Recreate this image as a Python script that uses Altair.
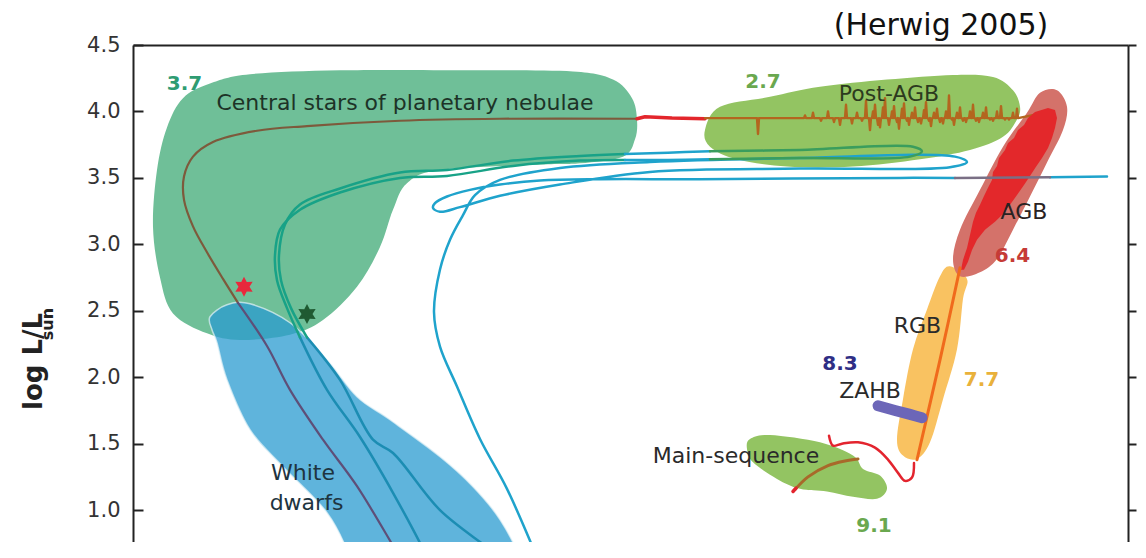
import altair as alt
import pandas as pd

# ---------------- data (x: horizontal position index, y: log L/Lsun) ----------------
W, H = 995, 497
XDOM = [0, 9.95]
YDOM = [0.76, 4.5]
TICKS = [1.0, 1.5, 2.0, 2.5, 3.0, 3.5, 4.0, 4.5]
FONT = "DejaVu Sans"

# regions (blobs)
cspn_x = [0.50, 0.77, 1.17, 2.07, 3.40, 4.40, 4.80, 4.99, 5.04, 5.02, 4.90, 4.47, 4.07, 3.07, 2.74, 2.60, 2.47, 2.24, 1.90, 1.57, 1.07, 0.74, 0.40, 0.27, 0.20, 0.24, 0.34]
cspn_y = [4.10, 4.21, 4.28, 4.31, 4.31, 4.30, 4.24, 4.10, 3.94, 3.79, 3.66, 3.61, 3.60, 3.56, 3.46, 3.26, 2.98, 2.68, 2.43, 2.32, 2.28, 2.33, 2.48, 2.75, 3.13, 3.56, 3.88]

pagb_x = [5.72, 5.87, 6.37, 6.87, 7.54, 8.20, 8.60, 8.80, 8.87, 8.84, 8.70, 8.37, 7.87, 7.20, 6.54, 6.04, 5.77]
pagb_y = [3.86, 4.035, 4.11, 4.185, 4.24, 4.275, 4.26, 4.16, 4.035, 3.94, 3.81, 3.71, 3.64, 3.585, 3.585, 3.64, 3.735]

agb_x = [9.24, 9.34, 9.30, 9.14, 8.97, 8.80, 8.64, 8.47, 8.27, 8.20, 8.27, 8.47, 8.70, 8.94, 9.07]
agb_y = [4.16, 4.035, 3.86, 3.615, 3.36, 3.11, 2.89, 2.79, 2.76, 2.89, 3.11, 3.41, 3.735, 3.99, 4.14]

rgb_x = [8.17, 8.34, 8.30, 8.24, 8.10, 7.97, 7.84, 7.70, 7.64, 7.70, 7.80, 7.94, 8.07]
rgb_y = [2.835, 2.74, 2.59, 2.21, 1.835, 1.51, 1.385, 1.41, 1.53, 1.835, 2.21, 2.51, 2.76]

ms_x = [6.17, 6.37, 6.87, 7.20, 7.30, 7.47, 7.54, 7.44, 7.20, 6.94, 6.67, 6.44, 6.20, 6.14]
ms_y = [1.535, 1.565, 1.51, 1.41, 1.31, 1.26, 1.16, 1.085, 1.10, 1.14, 1.16, 1.235, 1.36, 1.46]

wd_x = [0.77, 0.94, 1.17, 1.57, 1.94, 2.24, 2.57, 3.07, 3.40, 3.67, 3.87, 3.92, 2.27, 2.17, 1.94, 1.50, 1.17, 0.94, 0.84, 0.79]
wd_y = [2.455, 2.545, 2.553, 2.41, 2.131, 1.853, 1.68, 1.402, 1.176, 0.928, 0.627, 0.326, 0.326, 0.642, 0.981, 1.327, 1.605, 1.981, 2.26, 2.357]

# AGB thermal-pulse band
band_x = [9.15, 9.02, 8.95, 8.91, 8.85, 8.81, 8.75, 8.72, 8.66, 8.64, 8.60, 8.59, 8.55, 8.51, 8.47, 8.43, 8.40, 8.37, 8.34, 8.30, 8.28,
          8.31, 8.35, 8.39, 8.44, 8.52, 8.62, 8.70, 8.77, 8.84, 8.91, 8.97, 9.03, 9.09, 9.15, 9.19, 9.22, 9.24, 9.22]
band_y = [4.026, 3.996, 3.951, 3.898, 3.861, 3.80, 3.763, 3.71, 3.65, 3.59, 3.545, 3.485, 3.425, 3.364, 3.297, 3.237, 3.169, 3.071, 2.973, 2.883, 2.808,
          2.808, 2.868, 2.958, 3.034, 3.109, 3.169, 3.229, 3.297, 3.372, 3.447, 3.515, 3.583, 3.65, 3.725, 3.80, 3.876, 3.951, 4.011]

# main (red) post-AGB track, split by the region it crosses
noisy_base = 3.95
noisy_start_x, noisy_end_x, noisy_end_y = 5.72, 9.12, 3.99
spike_x = [6.25, 6.72, 6.80, 6.88, 6.95, 7.01, 7.07, 7.13, 7.19, 7.24, 7.29, 7.33, 7.37, 7.40, 7.42, 7.45, 7.47, 7.50, 7.52,
           7.56, 7.59, 7.61, 7.64, 7.66, 7.69, 7.71, 7.74, 7.76, 7.79, 7.82, 7.85, 7.88, 7.91, 7.93, 7.96, 7.98, 8.01,
           8.04, 8.07, 8.10, 8.13, 8.16, 8.19, 8.21, 8.24, 8.27, 8.30, 8.33, 8.37, 8.40, 8.43, 8.46, 8.50, 8.53, 8.57,
           8.60, 8.64, 8.68, 8.72, 8.76, 8.80, 8.84]
spike_y = [3.83, 3.97, 3.99, 3.93, 4.00, 3.92, 3.90, 4.05, 3.91, 3.99, 3.93, 4.08, 3.86, 4.00, 4.05, 3.90, 3.88, 4.03, 4.10,
           3.90, 4.00, 4.04, 3.92, 3.87, 4.02, 4.06, 3.93, 3.90, 3.99, 4.03, 3.92, 3.91, 4.01, 4.07, 3.93, 3.89, 3.99,
           4.02, 3.92, 3.91, 4.00, 4.12, 3.94, 3.90, 3.99, 4.03, 3.93, 3.92, 4.00, 4.05, 3.93, 3.92, 3.99, 4.03, 3.94,
           3.93, 4.00, 4.04, 3.94, 3.94, 3.99, 4.02]
redgap_x = [5.72, 5.39, 5.12, 5.04]
redgap_y = [3.945, 3.95, 3.96, 3.945]
brown_x = [5.04, 3.67, 2.67, 1.74, 1.24, 0.80, 0.60, 0.51, 0.51, 0.60, 0.74, 0.90, 1.05]
brown_y = [3.945, 3.945, 3.93, 3.89, 3.855, 3.77, 3.66, 3.51, 3.335, 3.135, 2.94, 2.74, 2.56]
brownwd_x = [1.05, 1.34, 1.57, 1.90, 2.24, 2.67, 2.87]
brownwd_y = [2.56, 2.235, 1.905, 1.53, 1.18, 0.645, 0.405]

# second (double) track
twdA_x = [3.97, 3.67, 3.07, 2.60, 2.40, 2.07, 1.74]
twdA_y = [0.40, 0.64, 1.00, 1.43, 1.53, 1.98, 2.30]
tcsA_x = [1.74, 1.58, 1.48, 1.46, 1.52, 1.67, 2.07, 2.67, 3.14, 3.80, 4.47, 4.92]
tcsA_y = [2.30, 2.52, 2.73, 2.92, 3.15, 3.30, 3.42, 3.54, 3.56, 3.63, 3.665, 3.68]
tgapA_x = [4.92, 5.35, 5.77]
tgapA_y = [3.68, 3.69, 3.70]
tpagb_x = [5.77, 6.67, 7.80, 7.89, 7.77, 6.67, 5.77]
tpagb_y = [3.70, 3.71, 3.735, 3.70, 3.66, 3.65, 3.64]
tgapB_x = [5.77, 5.35, 4.92]
tgapB_y = [3.64, 3.635, 3.635]
tcsB_x = [4.92, 4.47, 3.80, 3.14, 2.67, 2.07, 1.67, 1.47, 1.42, 1.44, 1.54, 1.67]
tcsB_y = [3.635, 3.63, 3.59, 3.515, 3.50, 3.39, 3.26, 3.11, 2.92, 2.73, 2.52, 2.30]
twdB_x = [1.67, 1.94, 2.27, 2.60, 2.94, 3.07]
twdB_y = [2.30, 1.905, 1.55, 1.13, 0.645, 0.405]

# blue track
blueA_x = [9.74, 9.17]
blueA_y = [3.51, 3.505]
blueB_x = [9.17, 8.22]
blueB_y = [3.505, 3.50]
blueC_x = [8.22, 7.67, 5.67, 4.67, 4.07, 3.67, 3.37, 3.14, 3.02, 3.00, 3.07, 3.27, 3.67, 4.27, 5.17, 6.67, 8.17, 8.34, 8.22, 6.67, 5.17, 4.27, 3.67, 3.42, 3.30, 3.17, 3.07, 3.01, 3.07, 3.24, 3.47, 3.74, 4.04, 4.17]
blueC_y = [3.50, 3.50, 3.49, 3.49, 3.48, 3.45, 3.41, 3.36, 3.31, 3.275, 3.245, 3.28, 3.365, 3.45, 3.545, 3.57, 3.58, 3.62, 3.66, 3.65, 3.62, 3.575, 3.485, 3.37, 3.22, 3.035, 2.81, 2.49, 2.23, 1.93, 1.535, 1.16, 0.645, 0.405]

# low-mass phases
rgbline_x = [7.84, 8.07, 8.27]
rgbline_y = [1.379, 2.131, 2.823]
msred_x = [6.96, 7.00, 7.09, 7.25, 7.42, 7.55, 7.65, 7.72, 7.79, 7.81]
msred_y = [1.56, 1.485, 1.50, 1.51, 1.47, 1.38, 1.28, 1.22, 1.245, 1.355]
msbrown_x = [6.62, 6.75, 6.95, 7.12, 7.25]
msbrown_y = [1.155, 1.25, 1.335, 1.37, 1.385]
mstip_x = [6.60, 6.63]
mstip_y = [1.14, 1.165]
zahb_x = [7.45, 7.62, 7.77, 7.89]
zahb_y = [1.785, 1.75, 1.72, 1.695]

# stars
star_x = [1.11, 1.74]
star_y = [2.68, 2.475]
star_c = ["#e8283c", "#1f5a32"]

# labels
lab_text = ["Central stars of planetary nebulae", "Post-AGB", "AGB", "RGB", "ZAHB", "Main-sequence", "White", "dwarfs"]
lab_x = [2.72, 7.56, 8.91, 7.845, 7.37, 6.03, 1.70, 1.735]
lab_y = [4.064, 4.135, 3.24, 2.382, 1.893, 1.407, 1.276, 1.05]
lab_c = ["#1d3327", "#2c3a1e", "#2a2222", "#2a2a2a", "#2a2a2a", "#2a2a2a", "#1e3440", "#1e3440"]
num_text = ["3.7", "2.7", "6.4", "7.7", "8.3", "9.1"]
num_x = [0.515, 6.30, 8.795, 8.485, 7.07, 7.41]
num_y = [4.207, 4.225, 2.909, 1.979, 2.10, 0.877]
num_c = ["#2e9c72", "#6aa84f", "#c63b36", "#e9b13b", "#2f2e85", "#6aa84f"]

STAR = ("M0,-1L0.275,-0.476L0.866,-0.5L0.55,0L0.866,0.5L0.275,0.476L0,1"
        "L-0.275,0.476L-0.866,0.5L-0.55,0L-0.866,-0.5L-0.275,-0.476Z")

# ---------------- encodings ----------------
XS = alt.Scale(domain=XDOM, nice=False, zero=False)
YS = alt.Scale(domain=YDOM, nice=False, zero=False)
X = alt.X("x:Q", scale=XS,
          axis=alt.Axis(orient="top", domain=True, domainColor="#222", domainWidth=2,
                        ticks=False, labels=False, grid=False, title=None))
Y = alt.Y("y:Q", scale=YS,
          axis=alt.Axis(orient="left", values=TICKS, format=".1f", domain=True, domainColor="#222",
                        domainWidth=2, ticks=False, labelPadding=13, labelFont=FONT, labelFontSize=21,
                        labelColor="#333", grid=False, title=None))


def frame(xs, ys):
    return pd.DataFrame({"x": xs, "y": ys, "i": list(range(len(xs)))})


def blob(xs, ys, fill, opacity=1.0, interp="cardinal-closed", stroke=None, sw=0.0):
    return alt.Chart(frame(xs, ys)).mark_line(
        fill=fill, fillOpacity=opacity, interpolate=interp, clip=True,
        stroke=stroke if stroke else fill, strokeWidth=sw, strokeOpacity=0.7
    ).encode(x=X, y=Y, order="i:Q")


def path(xs, ys, color, width=2.5, interp="catmull-rom"):
    return alt.Chart(frame(xs, ys)).mark_line(
        color=color, strokeWidth=width, interpolate=interp, clip=True,
        strokeCap="round", strokeJoin="round"
    ).encode(x=X, y=Y, order="i:Q")


# spiky post-AGB line: baseline with each read spike tip
nx, ny = [noisy_start_x], [noisy_base]
for sx, sy in zip(spike_x, spike_y):
    nx += [sx - 0.01, sx, sx + 0.01]
    ny += [noisy_base, sy, noisy_base]
nx.append(noisy_end_x)
ny.append(noisy_end_y)

layers = [
    blob(cspn_x, cspn_y, "#6fbf98"),
    blob(pagb_x, pagb_y, "#93c462"),
    blob(ms_x, ms_y, "#93c462"),
    blob(rgb_x, rgb_y, "#f9c261"),
    blob(agb_x, agb_y, "#d4726a"),
    blob(wd_x, wd_y, "#2a9bd0", opacity=0.75, stroke="#e6f4f8", sw=1.5),
    # blue track
    path(blueC_x, blueC_y, "#1fa3cc", 2.5),
    path(blueA_x, blueA_y, "#1fa3cc", 2.5, "linear"),
    # double track
    path(twdA_x, twdA_y, "#1c8db3", 2.5),
    path(twdB_x, twdB_y, "#1c8db3", 2.5),
    path(tcsA_x, tcsA_y, "#18a287", 2.5),
    path(tcsB_x, tcsB_y, "#18a287", 2.5),
    path(tgapA_x, tgapA_y, "#1fa3cc", 2.5),
    path(tgapB_x, tgapB_y, "#1fa3cc", 2.5),
    path(tpagb_x, tpagb_y, "#3a9d5d", 2.5),
    # main track
    path(brown_x, brown_y, "#7d5a3c", 2.2),
    path(brownwd_x, brownwd_y, "#5e4f78", 2.2),
    path(redgap_x, redgap_y, "#e3262c", 3.5, "linear"),
    path(nx, ny, "#b3661f", 2.4, "linear"),
    # AGB band
    blob(band_x, band_y, "#e3282b", interp="linear-closed"),
    path(blueB_x, blueB_y, "#7a6f85", 2.5, "linear"),
    # low-mass phases
    path(rgbline_x, rgbline_y, "#f06a1c", 3.0),
    path(msred_x, msred_y, "#e3242e", 2.5),
    path(msbrown_x, msbrown_y, "#a8692a", 3.0),
    path(mstip_x, mstip_y, "#e3242e", 3.5, "linear"),
    path(zahb_x, zahb_y, "#6c66b8", 11),
]

stars = alt.Chart(pd.DataFrame({"x": star_x, "y": star_y, "c": star_c})).mark_point(
    shape=STAR, filled=True, size=400, opacity=1
).encode(x=X, y=Y, color=alt.Color("c:N", scale=None))

labels = alt.Chart(pd.DataFrame({"x": lab_x, "y": lab_y, "t": lab_text, "c": lab_c})).mark_text(
    font=FONT, fontSize=22, align="center", baseline="middle"
).encode(x=X, y=Y, text="t:N", color=alt.Color("c:N", scale=None))

nums = alt.Chart(pd.DataFrame({"x": num_x, "y": num_y, "t": num_text, "c": num_c})).mark_text(
    font=FONT, fontSize=20, fontWeight="bold", align="center", baseline="middle"
).encode(x=X, y=Y, text="t:N", color=alt.Color("c:N", scale=None))

cite = alt.Chart(pd.DataFrame({"x": [8.08], "y": [4.645], "t": ["(Herwig 2005)"]})).mark_text(
    font=FONT, fontSize=30, align="center", baseline="middle", color="#111"
).encode(x=X, y=Y, text="t:N")

ytitle = alt.Chart(pd.DataFrame({"x": [-0.91], "y": [2.119], "t": ["log L/L"]})).mark_text(
    font=FONT, fontSize=26, fontWeight="bold", angle=270, align="center", baseline="alphabetic", color="#222"
).encode(x=X, y=Y, text="t:N")

ysub = alt.Chart(pd.DataFrame({"x": [-0.80], "y": [2.40], "t": ["sun"]})).mark_text(
    font=FONT, fontSize=16, fontWeight="bold", angle=270, align="center", baseline="alphabetic", color="#222"
).encode(x=X, y=Y, text="t:N")

main = alt.layer(*layers, stars, labels, nums, cite, ytitle, ysub)

tick_df = pd.DataFrame({"y": TICKS})
inner_ticks = alt.Chart(tick_df).mark_point(opacity=0).encode(
    x=alt.value(0),
    y=alt.Y("y:Q", scale=YS, axis=alt.Axis(orient="right", offset=-W, values=TICKS, domain=False,
                                            labels=False, ticks=True, tickSize=10, tickWidth=2,
                                            tickColor="#222", grid=False, title=None)))
right_axis = alt.Chart(tick_df).mark_point(opacity=0).encode(
    x=alt.value(0),
    y=alt.Y("y:Q", scale=YS, axis=alt.Axis(orient="right", values=TICKS, domain=True, domainColor="#222",
                                            domainWidth=2, labels=False, ticks=True, tickSize=8,
                                            tickWidth=2, tickColor="#222", grid=False, title=None)))

chart = alt.layer(main, inner_ticks, right_axis).resolve_scale(y="independent").properties(
    width=W, height=H,
    autosize=alt.AutoSizeParams(type="none"),
    padding={"left": 125, "top": 37, "right": 10, "bottom": 0},
).configure_view(strokeWidth=0)

chart.save("out.html", embed_options={"renderer": "svg", "actions": False})
